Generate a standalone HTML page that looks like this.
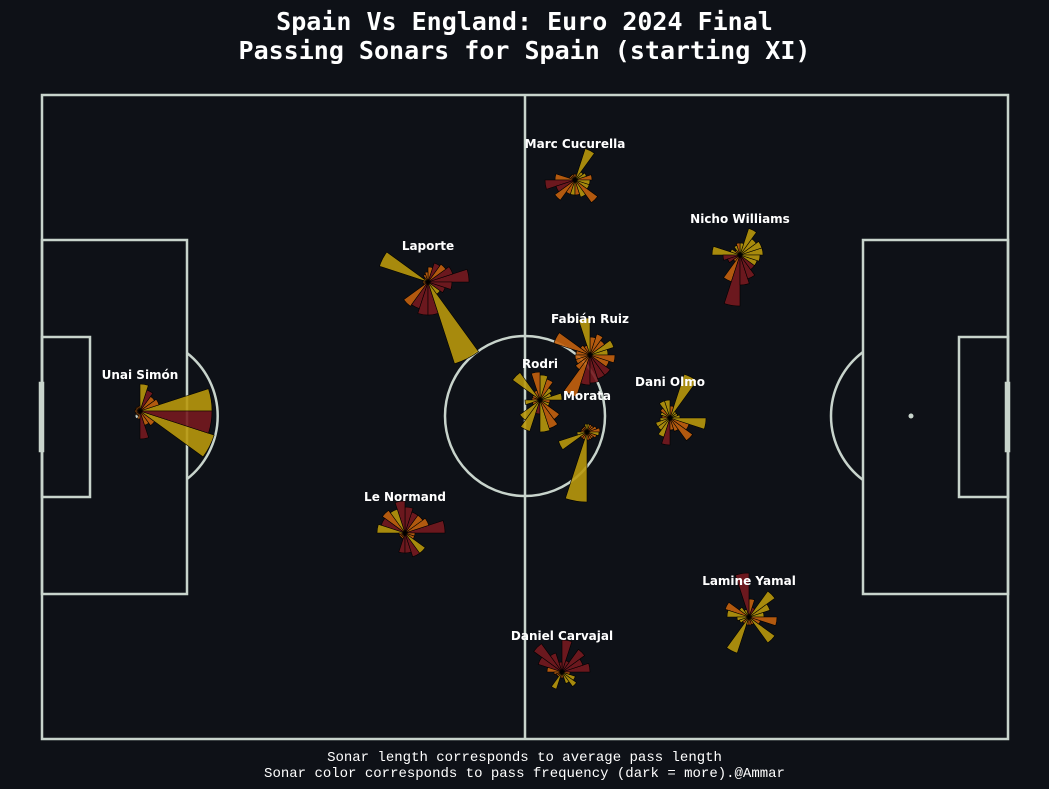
<!DOCTYPE html>
<html><head><meta charset="utf-8"><style>
html,body{margin:0;padding:0;background:#0e1117;}
svg{display:block;}
</style></head><body>
<svg id="c" width="1049" height="789" viewBox="0 0 1049 789" xmlns="http://www.w3.org/2000/svg">
<rect width="1049" height="789" fill="#0e1117"/>
<text x="524.5" y="30" text-anchor="middle" fill="#fff" font-family="DejaVu Sans Mono, monospace" font-weight="bold" font-size="25">Spain Vs England: Euro 2024 Final</text>
<text x="524.5" y="59" text-anchor="middle" fill="#fff" font-family="DejaVu Sans Mono, monospace" font-weight="bold" font-size="25">Passing Sonars for Spain (starting XI)</text>
<g fill="none" stroke="#c8d4cc" stroke-width="2.5">
<rect x="42" y="95" width="966" height="644"/>
<line x1="525" y1="95" x2="525" y2="739"/>
<circle cx="525" cy="416" r="80"/>
<rect x="42" y="240" width="145" height="354"/>
<rect x="42" y="337" width="48" height="160"/>
<rect x="863" y="240" width="145" height="354"/>
<rect x="959" y="337" width="49" height="160"/>
<path d="M187,353 A80,80 0 0 1 187,479"/>
<path d="M863,352 A80,80 0 0 0 863,480"/>
<rect x="40" y="383" width="3" height="68" fill="#c8d4cc"/>
<rect x="1006" y="383" width="3" height="68" fill="#c8d4cc"/>
</g>
<circle cx="138" cy="416" r="2.5" fill="#c8d4cc"/>
<circle cx="911" cy="416" r="2.5" fill="#c8d4cc"/>
<g id="sonars"></g>
<text x="524.5" y="761" text-anchor="middle" fill="#fff" font-family="Liberation Mono, monospace" font-size="14">Sonar length corresponds to average pass length</text>
<text x="524.5" y="777" text-anchor="middle" fill="#fff" font-family="Liberation Mono, monospace" font-size="14">Sonar color corresponds to pass frequency (dark = more).@Ammar</text>
</svg>
<script>
const players = ["Unai Simón","Laporte","Le Normand","Marc Cucurella","Rodri","Fabián Ruiz","Daniel Carvajal","Nicho Williams","Dani Olmo","Morata","Lamine Yamal"];
const posX = [140,428,405,575,540,590,562,740,670,587,749];
const posY = [411,282,533,180,400,355,672,255,418,432,617];
// average pass length per 18° bin (CCW from east), in pitch px
const lenUnai   = [72,20,18,22,27,5,5,5,5,5,5,5,5,5,8,28,15,18,78,72];
const lenLaporte= [41,26,22,20,15,10,8,5,51,5,5,5,30,28,33,33,86,15,18,24];
const lenLeNorm = [40,25,22,22,26,32,25,28,25,28,6,6,6,6,20,20,25,25,10,10];
const lenCucu   = [17,12,10,33,6,6,6,6,6,20,30,20,25,15,15,15,18,28,15,15];
const lenRodri  = [22,12,15,22,25,28,10,34,8,8,15,8,25,33,14,32,30,24,10,10];
const lenFabian = [18,25,18,22,18,37,10,12,38,14,15,15,18,44,30,28,25,25,20,25];
const lenCarv   = [28,22,28,12,32,10,20,35,25,15,8,6,6,18,6,6,12,18,14,8];
const lenNicho  = [23,23,20,28,12,12,10,6,10,28,17,13,8,28,51,30,25,18,18,20];
const lenOlmo   = [10,8,8,46,12,18,18,12,10,8,10,15,15,20,27,12,14,28,20,36];
const lenMorata = [13,10,8,8,8,8,6,6,6,6,10,30,8,8,70,8,8,8,10,12];
const lenYamal  = [15,22,32,10,18,44,8,12,25,22,12,10,8,38,8,8,8,32,12,28];
// pass frequency class per bin: 0 = few (yellow), 1 = medium (orange), 2 = many (dark red)
const frqUnai   = [0,1,1,2,0,1,1,1,1,1,1,1,1,1,1,2,1,1,0,2];
const frqLaporte= [2,2,1,2,1,1,1,1,0,1,1,1,1,2,2,2,0,0,2,2];
const frqLeNorm = [2,1,1,2,2,2,0,1,2,0,1,1,1,1,2,2,2,0,1,1];
const frqCucu   = [1,0,0,0,1,1,1,1,1,1,2,2,1,1,0,1,0,1,0,0];
const frqRodri  = [0,0,0,1,0,1,1,0,1,1,0,1,0,0,2,0,1,1,0,1];
const frqFabian = [0,0,1,1,1,0,1,1,1,1,1,1,1,1,2,2,2,2,1,1];
const frqCarv   = [2,2,2,2,2,2,2,2,2,1,1,1,1,0,1,1,0,0,0,1];
const frqNicho  = [0,0,0,0,0,1,0,1,0,0,2,2,1,1,2,2,2,2,0,0];
const frqOlmo   = [0,0,0,0,1,0,0,1,0,1,0,0,0,0,2,1,1,1,1,0];
const frqMorata = [1,1,1,1,0,0,1,1,1,1,0,0,1,1,0,1,1,1,1,0];
const frqYamal  = [0,0,0,2,1,2,0,0,1,0,0,0,1,0,1,1,1,0,1,1];
const lengths = [lenUnai,lenLaporte,lenLeNorm,lenCucu,lenRodri,lenFabian,lenCarv,lenNicho,lenOlmo,lenMorata,lenYamal];
const freqs = [frqUnai,frqLaporte,frqLeNorm,frqCucu,frqRodri,frqFabian,frqCarv,frqNicho,frqOlmo,frqMorata,frqYamal];
const palette = ["#b8980c","#c4620e","#751a1f"];
const NS="http://www.w3.org/2000/svg";
const g=document.getElementById('sonars');
const binDeg = 360/20;
function ang(i){return i*binDeg*Math.PI/180;}
players.forEach((name,p)=>{
  const cx=posX[p], cy=posY[p];
  const grp=document.createElementNS(NS,'g');
  
  
  lengths[p].forEach((r,i)=>{
    const a0=ang(i), a1=ang(i+1);
    const x0=cx+r*Math.cos(a0), y0=cy-r*Math.sin(a0);
    const x1=cx+r*Math.cos(a1), y1=cy-r*Math.sin(a1);
    const path=document.createElementNS(NS,'path');
    path.setAttribute('d',`M${cx},${cy} L${x0},${y0} A${r},${r} 0 0 0 ${x1},${y1} Z`);
    path.setAttribute('fill',palette[freqs[p][i]]);
    path.setAttribute('fill-opacity','0.9');
    path.setAttribute('stroke','#000');
    path.setAttribute('stroke-width','0.6');
    
    
    grp.appendChild(path);
  });
  g.appendChild(grp);
  const t=document.createElementNS(NS,'text');
  t.setAttribute('x',cx); t.setAttribute('y',cy-32);
  t.setAttribute('text-anchor','middle');
  t.setAttribute('fill','#fff');
  t.setAttribute('font-family','DejaVu Sans, sans-serif');
  t.setAttribute('font-weight','bold');
  t.setAttribute('font-size','12');
  t.textContent=name;
  
  
  g.appendChild(t);
});
</script>
</body></html>
